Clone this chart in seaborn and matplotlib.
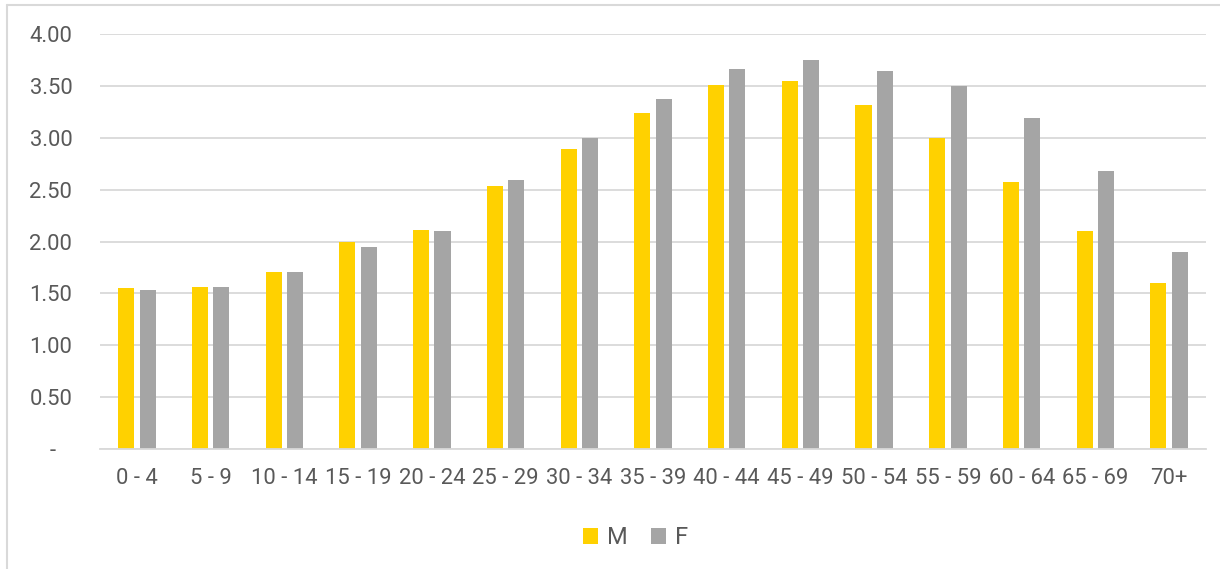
import matplotlib
matplotlib.use('Agg')
import matplotlib.pyplot as plt
from matplotlib.lines import Line2D
from matplotlib.ticker import FuncFormatter
import seaborn as sns
import pandas as pd
import numpy as np

# %% Data
age_groups = ['0 - 4', '5 - 9', '10 - 14', '15 - 19', '20 - 24', '25 - 29', '30 - 34',
              '35 - 39', '40 - 44', '45 - 49', '50 - 54', '55 - 59', '60 - 64', '65 - 69', '70+']
male = [1.55, 1.56, 1.71, 2.00, 2.11, 2.54, 2.89, 3.24, 3.51, 3.55, 3.32, 3.00, 2.57, 2.10, 1.60]
female = [1.53, 1.56, 1.71, 1.95, 2.10, 2.59, 3.00, 3.37, 3.66, 3.75, 3.64, 3.50, 3.19, 2.68, 1.90]
y_ticks = [0, 0.5, 1.0, 1.5, 2.0, 2.5, 3.0, 3.5, 4.0]

df = pd.DataFrame({'age': age_groups * 2,
                   'value': male + female,
                   'sex': ['M'] * len(male) + ['F'] * len(female)})

# %% Plot
sns.set_theme(style='white')
plt.rcParams['font.family'] = ['Roboto', 'DejaVu Sans']
text_col = '#595959'
grid_col = '#D9D9D9'

fig = plt.figure(figsize=(12.2, 5.69), dpi=100)
ax = fig.add_axes([0.082, 0.211, 0.9065, 0.729])

sns.barplot(data=df, x='age', y='value', hue='sex', order=age_groups,
            palette={'M': '#FFD100', 'F': '#A5A5A5'}, saturation=1, width=0.58, gap=0.25,
            linewidth=0, ax=ax)

ax.set_ylim(0, 4.0)
ax.set_xlim(-0.5, len(age_groups) - 0.5)
ax.set_yticks(y_ticks)
# accounting-style format: zero shown as a dash, set in from the right
ax.yaxis.set_major_formatter(FuncFormatter(lambda v, p: '-   ' if v == 0 else f'{v:.2f}'))
ax.grid(axis='y', color=grid_col, linewidth=1.3)
ax.set_axisbelow(True)
for s in ['top', 'right', 'left']:
    ax.spines[s].set_visible(False)
ax.spines['bottom'].set_color(grid_col)
ax.spines['bottom'].set_linewidth(1.3)
ax.tick_params(axis='both', length=0, labelsize=15.8, colors=text_col)
ax.tick_params(axis='y', pad=20)
ax.tick_params(axis='x', pad=14)
ax.set_xlabel('')
ax.set_ylabel('')

leg = ax.legend(loc='upper center', bbox_to_anchor=(0.484, -0.135), ncol=2, frameon=False,
                fontsize=17, handlelength=0.65, handleheight=0.65, handletextpad=0.35,
                columnspacing=1.0)
for t in leg.get_texts():
    t.set_color(text_col)

# chart frame (top and left edges visible)
fig.add_artist(Line2D([7 / 1220, 1.0], [1 - 5 / 569, 1 - 5 / 569], color=grid_col, linewidth=1.5))
fig.add_artist(Line2D([7 / 1220, 7 / 1220], [0.0, 1 - 5 / 569], color=grid_col, linewidth=1.5))

plt.savefig('out.png', dpi=100)
